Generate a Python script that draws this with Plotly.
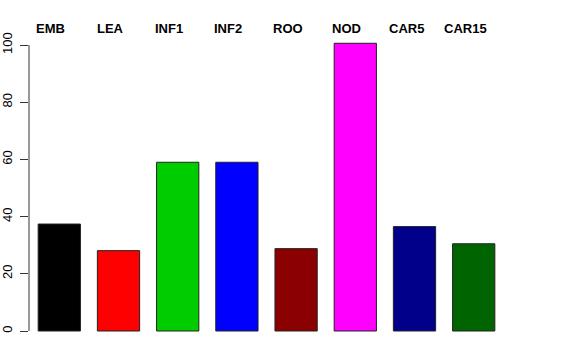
import plotly.graph_objects as go

categories = ["EMB", "LEA", "INF1", "INF2", "ROO", "NOD", "CAR5", "CAR15"]
values = [37.4, 28.1, 59.0, 59.0, 28.8, 100.6, 36.5, 30.5]
colors = ["#000000", "#FF0000", "#00CD00", "#0000FF", "#8B0000", "#FF00FF", "#00008B", "#006400"]
y_ticks = [0, 20, 40, 60, 80, 100]

W, H = 576, 360
L, R, T, B = 29, 29, 31, 17
px_per_cat = 59.2
first_center_px = 59.3
zero_px = 331.0
px_per_unit = 2.86

plot_w = W - L - R
x0 = -(first_center_px - L) / px_per_cat
x1 = x0 + plot_w / px_per_cat
y0 = -((H - B) - zero_px) / px_per_unit
y1 = (zero_px - T) / px_per_unit

font = "Liberation Sans, Arial, Helvetica, sans-serif"

fig = go.Figure(
    go.Bar(
        x=categories,
        y=values,
        marker=dict(color=colors, line=dict(color="#222222", width=1)),
        width=0.714,
        hoverinfo="skip",
    )
)

annotations = [
    dict(
        x=c, y=1, xref="x", yref="paper", text="<b>%s</b>" % c,
        showarrow=False, yanchor="middle", xanchor="center", yshift=2.5, xshift=-8.5,
        font=dict(family=font, size=13, color="black"),
    )
    for c in categories
]

fig.update_layout(
    width=W, height=H,
    margin=dict(l=L, r=R, t=T, b=B, pad=0, autoexpand=False),
    paper_bgcolor="white", plot_bgcolor="white",
    showlegend=False,
    xaxis=dict(range=[x0, x1], showticklabels=False, showgrid=False, zeroline=False,
               showline=False, ticks="", automargin=False),
    yaxis=dict(range=[y0, y1], tickvals=y_ticks, ticktext=[str(v) for v in y_ticks],
               tickangle=-90, ticks="outside", ticklen=8, tickwidth=1, tickcolor="#333333",
               ticklabelstandoff=3,
               showgrid=False, zeroline=False, showline=False, automargin=False,
               tickfont=dict(family=font, size=13, color="black")),
    annotations=annotations,
    shapes=[dict(type="line", xref="paper", yref="y", x0=0, x1=0, y0=min(y_ticks), y1=max(y_ticks),
                 line=dict(color="#333333", width=1))],
)

fig.write_html(
    "out.html",
    config={"displayModeBar": False},
    post_script="document.body.style.margin='0';document.body.style.padding='0';document.body.style.overflow='hidden';",
)
